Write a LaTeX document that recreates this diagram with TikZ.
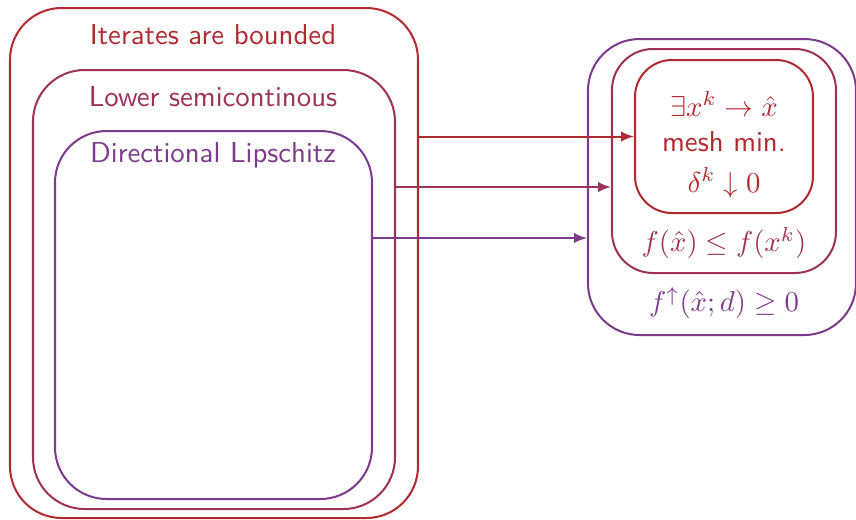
\documentclass[tikz,border=0pt]{standalone}
\usepackage{tikz}
\usetikzlibrary{positioning,
        shapes,
        arrows.meta,
        fit}
\usepackage{amsmath,amssymb}
\usepackage{xcolor}
\definecolor{bndred}{RGB}{178,42,48}
\definecolor{lscrose}{RGB}{158,50,88}
\definecolor{dlpurple}{RGB}{126,58,140}

\begin{document}
\begin{tikzpicture}[x=0.0122cm,y=-0.0122cm,font=\sffamily]
            \useasboundingbox (0,0) rectangle (856,519);

            % assumptions on the left, nested
            \node [draw=bndred,line width=0.7pt,rounded corners=0.63cm,inner sep=0,fit={(10,8) (418,518)}] (bnd) {};
            \node [draw=lscrose,line width=0.7pt,rounded corners=0.63cm,inner sep=0,fit={(33,70) (395,509)}] (lsc) {};
            \node [draw=dlpurple,line width=0.7pt,rounded corners=0.63cm,inner sep=0,fit={(55,131) (372,499)}] (dlip) {};
            \node [text=bndred,inner sep=1pt] (bndlbl) at (213,35) {Iterates are bounded};
            \node [text=lscrose,inner sep=1pt] (lsclbl) at (213,97) {Lower semicontinous};
            \node [text=dlpurple,inner sep=1pt] (dliplbl) at (213,155) {Directional Lipschitz};

            % results on the right, nested the other way
            \node [draw=dlpurple,line width=0.7pt,rounded corners=0.63cm,inner sep=0,fit={(588,39) (856,335)}] (stat) {};
            \node [draw=lscrose,line width=0.7pt,rounded corners=0.5cm,inner sep=0,fit={(612,49) (836,273)}] (dec) {};
            \node [draw=bndred,line width=0.7pt,rounded corners=0.45cm,inner sep=0,fit={(635,60) (813,213)}] (mesh) {};
            \node [text=bndred,inner sep=1pt] (limlbl) at (724,104) {$\exists x^k \to \hat{x}$};
            \node [text=bndred,inner sep=1pt] (meshlbl) at (724,142) {mesh min.};
            \node [text=bndred,inner sep=1pt] (steplbl) at (724,183) {$\delta^k \downarrow 0$};
            \node [text=lscrose,inner sep=1pt] (declbl) at (724,243) {$f(\hat{x}) \le f(x^k)$};
            \node [text=dlpurple,inner sep=1pt] (statlbl) at (724,303) {$f^{\uparrow}(\hat{x};d) \ge 0$};

            \coordinate (lvl2) at (0,187);
            \coordinate (lvl3) at (0,238);
            \draw [-{Latex[length=4.5pt,width=3.6pt]},bndred,line width=0.7pt](bnd.east |- mesh.west) -- (mesh.west);
            \draw [-{Latex[length=4.5pt,width=3.6pt]},lscrose,line width=0.7pt](lsc.east |- lvl2) -- (dec.west |- lvl2);
            \draw [-{Latex[length=4.5pt,width=3.6pt]},dlpurple,line width=0.7pt](dlip.east |- lvl3) -- (stat.west |- lvl3);
        \end{tikzpicture}
\end{document}
